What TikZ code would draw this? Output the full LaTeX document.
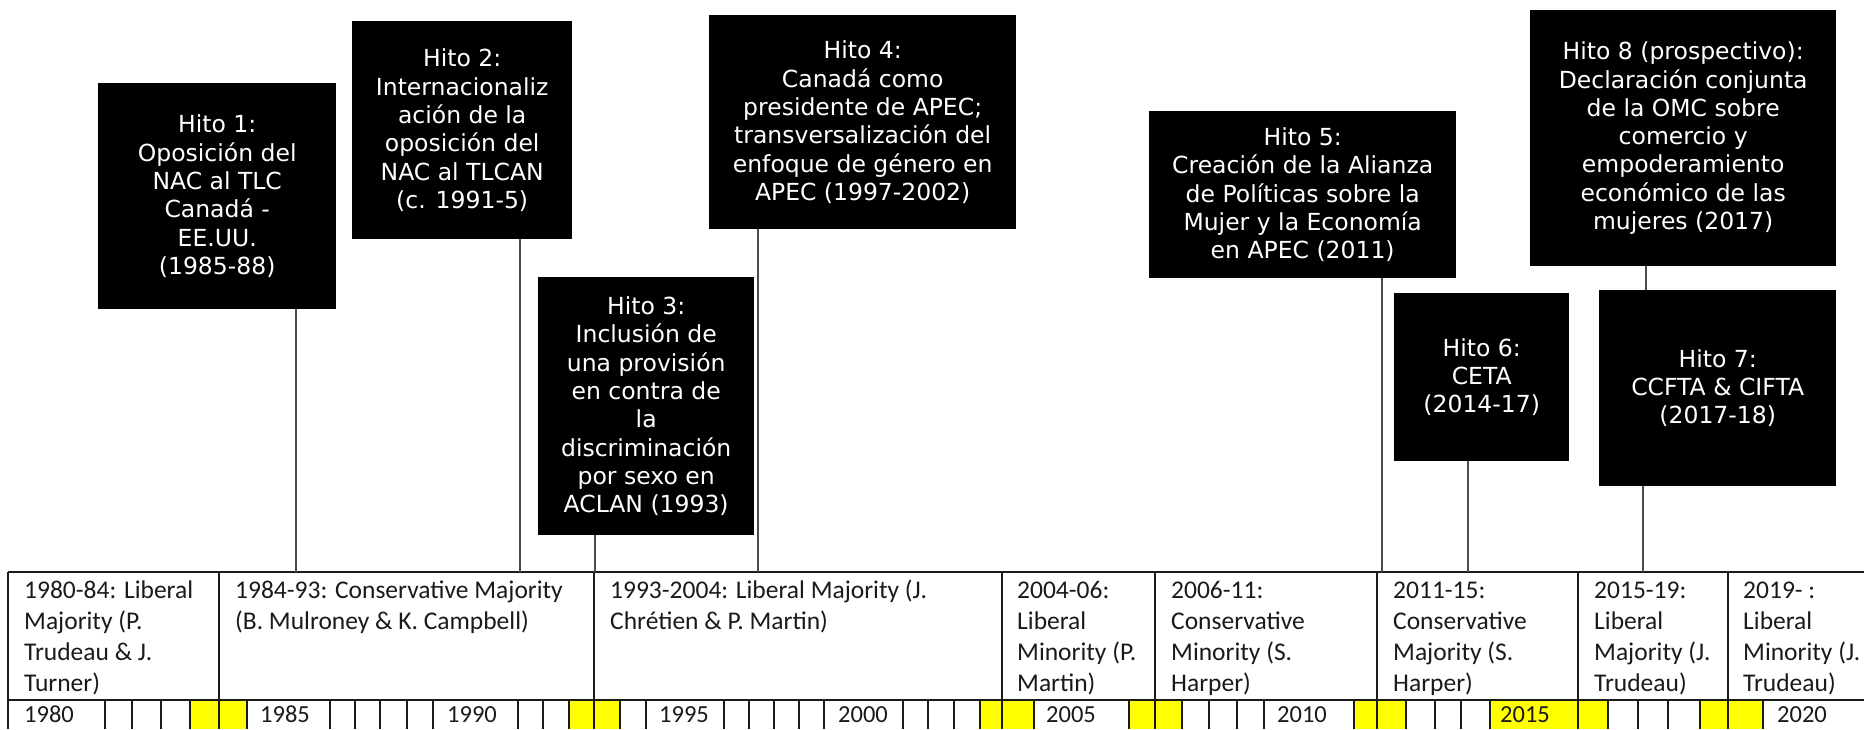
\documentclass[tikz,border=0pt]{standalone}
\usepackage{fontspec}
\setmainfont{Carlito}
\newfontfamily\hitofont{DejaVu Sans}
\definecolor{ink}{HTML}{1A1A1A}
\definecolor{elecyellow}{HTML}{FFFF00}

\begin{document}
\begin{tikzpicture}[x=1pt,y=-1pt,
    hito/.style={fill=black,text=white,anchor=north west,inner sep=0pt,align=center,
      font=\hitofont\fontsize{23.5}{28.3}\selectfont},
    link/.style={draw=black!70,line width=2.5pt},
    rule/.style={draw=ink,line width=2pt},
    party/.style={anchor=north west,inner sep=0pt,align=left,text=ink,
      font=\fontsize{25.5}{31}\selectfont},
    yearlbl/.style={anchor=west,inner sep=0pt,text=ink,font=\fontsize{24.5}{31}\selectfont}]

  \useasboundingbox (0,0) rectangle (1864,729);

  % election years in the year row
  \foreach \A/\B in {190/247, 569/620, 980/1034, 1129/1182, 1354/1406, 1490/1608, 1700/1763}{
    \fill[elecyellow] (\A,700) rectangle (\B,729);
  }

  % table
  \draw[rule] (8,572) -- (1864,572);
  \draw[rule] (8,700) -- (1864,700);
  \draw[rule] (8,572) -- (8,729);
  \foreach \X in {219,594,1002,1155,1377,1578,1728}{
    \draw[rule] (\X,572) -- (\X,729);
  }
  \foreach \X in {105,132,161,190,247,330,355,380,407,433,518,543,569,620,646,724,749,774,799,824,
                  903,928,954,980,1034,1129,1182,1209,1237,1264,1354,1406,1435,1461,1490,
                  1608,1638,1668,1700,1763}{
    \draw[rule] (\X,700) -- (\X,729);
  }

  % governments
  \node[party] (p1) at (24,577)   {\strut 1980-84: Liberal\\Majority (P.\\Trudeau \& J.\\Turner)};
  \node[party] (p2) at (235,577)  {\strut 1984-93: Conservative Majority\\(B. Mulroney \& K. Campbell)};
  \node[party] (p3) at (610,577)  {\strut 1993-2004: Liberal Majority (J.\\Chrétien \& P. Martin)};
  \node[party] (p4) at (1017,577) {\strut 2004-06:\\Liberal\\Minority (P.\\Martin)};
  \node[party] (p5) at (1171,577) {\strut 2006-11:\\Conservative\\Minority (S.\\Harper)};
  \node[party] (p6) at (1393,577) {\strut 2011-15:\\Conservative\\Majority (S.\\Harper)};
  \node[party] (p7) at (1594,577) {\strut 2015-19:\\Liberal\\Majority (J.\\Trudeau)};
  \node[party] (p8) at (1743,577) {\strut 2019- :\\Liberal\\Minority (J.\\Trudeau)};

  % years
  \foreach \X/\Yr in {24/1980, 260/1985, 447/1990, 659/1995, 838/2000, 1046/2005, 1277/2010, 1500/2015, 1777/2020}{
    \node[yearlbl] (y\Yr) at (\X,714.5) {\Yr};
  }

  % milestones
  \node[hito,minimum width=238,minimum height=226] (h1) at (98,83)
    {Hito 1:\\Oposición del\\NAC al TLC\\Canadá -\\EE.UU.\\(1985-88)};
  \node[hito,minimum width=220,minimum height=218] (h2) at (352,21)
    {Hito 2:\\Internacionaliz\\ación de la\\oposición del\\NAC al TLCAN\\(c. 1991-5)};
  \node[hito,minimum width=216,minimum height=258] (h3) at (538,277)
    {Hito 3:\\Inclusión de\\una provisión\\en contra de\\la\\discriminación\\por sexo en\\ACLAN (1993)};
  \node[hito,minimum width=307,minimum height=214] (h4) at (709,15)
    {Hito 4:\\Canadá como\\presidente de APEC;\\transversalización del\\enfoque de género en\\APEC (1997-2002)};
  \node[hito,minimum width=307,minimum height=167] (h5) at (1149,111)
    {Hito 5:\\Creación de la Alianza\\de Políticas sobre la\\Mujer y la Economía\\en APEC (2011)};
  \node[hito,minimum width=175,minimum height=168] (h6) at (1394,293)
    {Hito 6:\\CETA\\(2014-17)};
  \node[hito,minimum width=237,minimum height=196] (h7) at (1599,290)
    {Hito 7:\\CCFTA \& CIFTA\\(2017-18)};
  \node[hito,minimum width=306,minimum height=256] (h8) at (1530,10)
    {Hito 8 (prospectivo):\\Declaración conjunta\\de la OMC sobre\\comercio y\\empoderamiento\\económico de las\\mujeres (2017)};

  % where the lines meet the table
  \coordinate (t1) at (296,572);
  \coordinate (t2) at (520,572);
  \coordinate (t3) at (595,572);
  \coordinate (t4) at (758,572);
  \coordinate (t5) at (1382,572);
  \coordinate (t6) at (1468,572);
  \coordinate (t7) at (1643,572);
  \coordinate (t8) at (1646,0);

  \foreach \N in {1,...,7}{
    \draw[link] (h\N.south -| t\N) -- (t\N);
  }
  \draw[link] (h8.south -| t8) -- (h7.north -| t8);
\end{tikzpicture}
\end{document}
